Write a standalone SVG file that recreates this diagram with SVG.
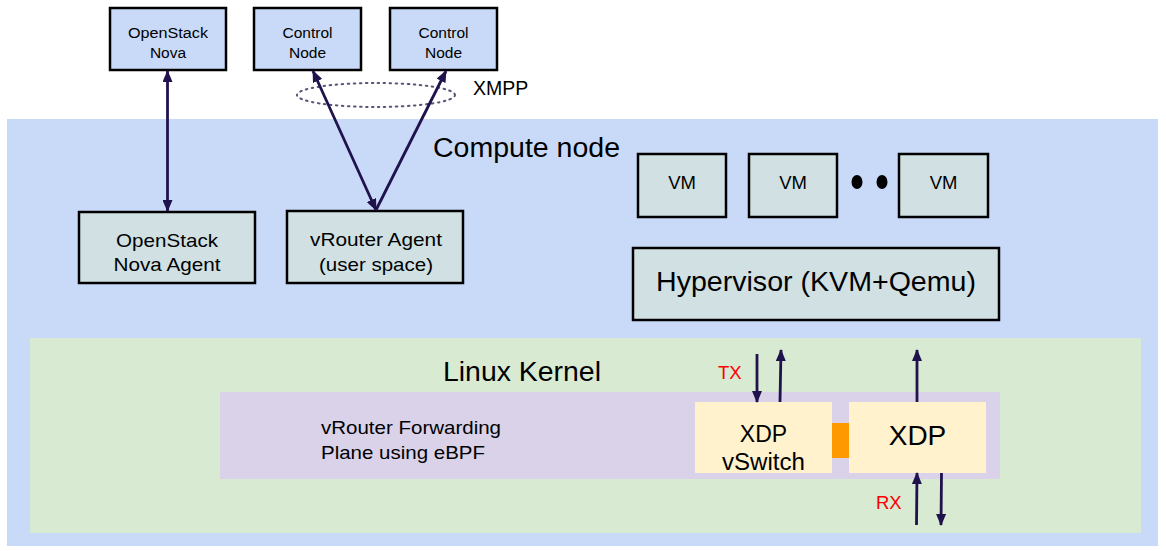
<svg xmlns="http://www.w3.org/2000/svg" width="1166" height="551" viewBox="0 0 1166 551">
<defs>
<marker id="ah" markerUnits="userSpaceOnUse" markerWidth="12" markerHeight="10" refX="11" refY="5" orient="auto-start-reverse">
<path d="M0,0 L12,5 L0,10 Z" fill="#20124d"/>
</marker>
<style>
text{font-family:"Liberation Sans",Arial,sans-serif;fill:#000}
.box{stroke:#000;stroke-width:2.5}
.top{fill:#c9daf8}
.grey{fill:#d0e0e3}
.c{text-anchor:middle}
.arr{stroke:#20124d;stroke-width:2.8;fill:none}
.red{fill:#ff0000}
</style>
</defs>
<rect width="1166" height="551" fill="#ffffff"/>
<g id="compute-node">
<rect x="7" y="119" width="1151" height="427" fill="#c9daf8"/>
<text x="433" y="157" font-size="27" textLength="187" lengthAdjust="spacingAndGlyphs">Compute node</text>
</g>
<g id="linux-kernel">
<rect x="30" y="338" width="1111" height="195" fill="#d9ead3"/>
<text x="443" y="381" font-size="27" textLength="158" lengthAdjust="spacingAndGlyphs">Linux Kernel</text>
</g>
<g id="vrouter-forwarding">
<rect x="220" y="392" width="780" height="87" fill="#d9d2e9"/>
<text x="321" y="434" font-size="18.5" textLength="180" lengthAdjust="spacingAndGlyphs">vRouter Forwarding</text>
<text x="321" y="459" font-size="18.5" textLength="164" lengthAdjust="spacingAndGlyphs">Plane using eBPF</text>
</g>
<g id="xdp-vswitch">
<rect x="695" y="402" width="137" height="71" fill="#fff2cc"/>
<text x="763.5" y="442" font-size="23" class="c">XDP</text>
<text x="763.5" y="470" font-size="23" class="c" textLength="83" lengthAdjust="spacingAndGlyphs">vSwitch</text>
</g>
<g id="xdp-link">
<rect x="832" y="423" width="17" height="35" fill="#ff9900"/>
</g>
<g id="xdp">
<rect x="849" y="402" width="137" height="71" fill="#fff2cc"/>
<text x="917.5" y="445" font-size="28" class="c">XDP</text>
</g>
<g id="openstack-nova">
<rect class="box top" x="110" y="8" width="116" height="62"/>
<text x="168" y="38" font-size="15.5" class="c" textLength="80" lengthAdjust="spacingAndGlyphs">OpenStack</text>
<text x="168" y="58" font-size="15.5" class="c">Nova</text>
</g>
<g id="control-node-1">
<rect class="box top" x="254" y="8" width="107" height="62"/>
<text x="307.5" y="38" font-size="15.5" class="c">Control</text>
<text x="307.5" y="58" font-size="15.5" class="c">Node</text>
</g>
<g id="control-node-2">
<rect class="box top" x="390" y="8" width="107" height="62"/>
<text x="443.5" y="38" font-size="15.5" class="c">Control</text>
<text x="443.5" y="58" font-size="15.5" class="c">Node</text>
</g>
<g id="xmpp">
<ellipse cx="376" cy="95" rx="79" ry="12" fill="none" stroke="#555577" stroke-width="2" stroke-dasharray="1.5 4.5" stroke-linecap="round"/>
<text x="473" y="95" font-size="19.5">XMPP</text>
</g>
<g id="openstack-nova-agent">
<rect class="box grey" x="79" y="212" width="176" height="71"/>
<text x="167" y="247" font-size="19" class="c" textLength="102" lengthAdjust="spacingAndGlyphs">OpenStack</text>
<text x="167" y="271" font-size="19" class="c" textLength="107" lengthAdjust="spacingAndGlyphs">Nova Agent</text>
</g>
<g id="vrouter-agent">
<rect class="box grey" x="287" y="211" width="176" height="72"/>
<text x="376" y="246" font-size="19" class="c" textLength="132" lengthAdjust="spacingAndGlyphs">vRouter Agent</text>
<text x="376" y="271" font-size="19" class="c" textLength="114" lengthAdjust="spacingAndGlyphs">(user space)</text>
</g>
<g id="vm-1">
<rect class="box grey" x="638" y="154" width="88" height="63"/>
<text x="682" y="189" font-size="18.5" class="c">VM</text>
</g>
<g id="vm-2">
<rect class="box grey" x="749" y="154" width="88" height="63"/>
<text x="793" y="189" font-size="18.5" class="c">VM</text>
</g>
<g id="ellipsis">
<ellipse cx="857" cy="182" rx="5.5" ry="7" fill="#000"/>
<ellipse cx="882" cy="182" rx="5.5" ry="7" fill="#000"/>
</g>
<g id="vm-3">
<rect class="box grey" x="899" y="154" width="89" height="63"/>
<text x="943.5" y="189" font-size="18.5" class="c">VM</text>
</g>
<g id="hypervisor">
<rect class="box grey" x="633" y="248" width="366" height="72"/>
<text x="816" y="291" font-size="27" class="c" textLength="320" lengthAdjust="spacingAndGlyphs">Hypervisor (KVM+Qemu)</text>
</g>
<g id="connectors">
<line class="arr" x1="167.5" y1="71" x2="167.5" y2="211" marker-start="url(#ah)" marker-end="url(#ah)"/>
<line class="arr" x1="376" y1="210" x2="313" y2="71" marker-start="url(#ah)" marker-end="url(#ah)"/>
<line class="arr" x1="376" y1="210" x2="446" y2="71" marker-end="url(#ah)"/>
<line class="arr" x1="757" y1="354" x2="757" y2="402" marker-end="url(#ah)"/>
<line class="arr" x1="780" y1="402" x2="781" y2="350" marker-end="url(#ah)"/>
<line class="arr" x1="917" y1="402" x2="917" y2="350" marker-end="url(#ah)"/>
<line class="arr" x1="916.5" y1="525" x2="917" y2="473" marker-end="url(#ah)"/>
<line class="arr" x1="941.5" y1="473" x2="941" y2="525" marker-end="url(#ah)"/>
<text class="red" x="718" y="379" font-size="18.5">TX</text>
<text class="red" x="876" y="509" font-size="18.5">RX</text>
</g>
</svg>
